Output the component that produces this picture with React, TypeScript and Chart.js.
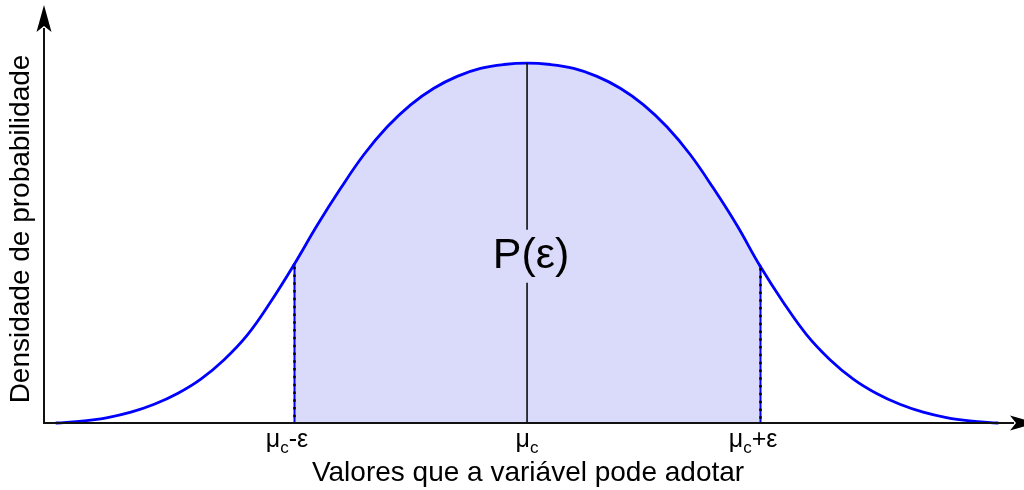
import React, { useEffect, useRef } from 'react';
import { Chart, registerables } from 'chart.js';

Chart.register(...registerables);

// Density curve, x in units of ε around μc, y relative to the peak density
const curveX = [
  -2.02, -1.9, -1.8, -1.7, -1.6, -1.5, -1.4, -1.3, -1.2, -1.1, -1.0,
  -0.9, -0.8, -0.7, -0.6, -0.5, -0.4, -0.3, -0.2, -0.1, 0,
  0.1, 0.2, 0.3, 0.4, 0.5, 0.6, 0.7, 0.8, 0.9,
  1.0, 1.1, 1.2, 1.3, 1.4, 1.5, 1.6, 1.7, 1.8, 1.9, 2.02,
];
const curveY = [
  0, 0.006, 0.015, 0.03, 0.052, 0.082, 0.122, 0.176, 0.245, 0.337, 0.44,
  0.55, 0.652, 0.746, 0.823, 0.884, 0.93, 0.963, 0.985, 0.996, 1.0,
  0.996, 0.985, 0.963, 0.93, 0.884, 0.823, 0.746, 0.652, 0.55,
  0.436, 0.335, 0.245, 0.176, 0.122, 0.082, 0.052, 0.03, 0.015, 0.006, 0,
];

// Shaded interval [μc-ε, μc+ε] and the mean
const bandLow = -1;
const bandHigh = 1;
const centerValue = 0;

// Tick labels: μ with subscript c, followed by the offset
const tickValues = [-1, 0, 1];
const tickMain = ['μ', 'μ', 'μ'];
const tickSub = ['c', 'c', 'c'];
const tickTail = ['-ε', '', '+ε'];

const xTitle = 'Valores que a variável pode adotar';
const yTitle = 'Densidade de probabilidade';
const areaLabel = 'P(ε)';

const FONT = '"Liberation Sans", Arial, Helvetica, sans-serif';
const CURVE_BLUE = 'rgb(0,0,255)';
const BAND_FILL = 'rgb(218,218,250)';

function valueAt(v: number): number {
  return curveY[curveX.indexOf(v)];
}

function arrowHead(ctx: CanvasRenderingContext2D, tx: number, ty: number, dx: number, dy: number) {
  const len = 27;
  const half = 7.5;
  const notch = 6;
  const px = -dy;
  const py = dx;
  const bx = tx - dx * len;
  const by = ty - dy * len;
  ctx.beginPath();
  ctx.moveTo(tx, ty);
  ctx.lineTo(bx + px * half, by + py * half);
  ctx.lineTo(tx - dx * (len - notch), ty - dy * (len - notch));
  ctx.lineTo(bx - px * half, by - py * half);
  ctx.closePath();
  ctx.fill();
}

const decorPlugin = {
  id: 'decor',
  afterDatasetsDraw(chart: any) {
    const { ctx, chartArea, scales } = chart;
    const xs = scales.x;
    const ys = scales.y;
    const base = ys.getPixelForValue(0);

    ctx.save();

    // Centre line at μc, broken around the P(ε) label
    const cx = xs.getPixelForValue(centerValue);
    const peak = ys.getPixelForValue(valueAt(centerValue));
    const labelMid = ys.getPixelForValue(0.465);
    ctx.strokeStyle = '#000';
    ctx.lineWidth = 1.5;
    ctx.beginPath();
    ctx.moveTo(cx, peak);
    ctx.lineTo(cx, labelMid - 26);
    ctx.moveTo(cx, labelMid + 27);
    ctx.lineTo(cx, base);
    ctx.stroke();

    ctx.fillStyle = '#000';
    ctx.font = `43px ${FONT}`;
    ctx.textAlign = 'center';
    ctx.textBaseline = 'middle';
    ctx.fillText(areaLabel, cx + 4, labelMid + 1);

    // Interval edges: blue rule with black dots on top
    [bandLow, bandHigh].forEach((v) => {
      const px = Math.round(xs.getPixelForValue(v)) + 0.5;
      const top = ys.getPixelForValue(valueAt(v));
      ctx.setLineDash([]);
      ctx.strokeStyle = CURVE_BLUE;
      ctx.lineWidth = 2;
      ctx.beginPath();
      ctx.moveTo(px, top);
      ctx.lineTo(px, base);
      ctx.stroke();
      ctx.setLineDash([2.5, 5.3]);
      ctx.strokeStyle = '#000';
      ctx.lineWidth = 2.5;
      ctx.beginPath();
      ctx.moveTo(px, top + 2);
      ctx.lineTo(px, base);
      ctx.stroke();
    });
    ctx.setLineDash([]);

    // Axes with arrow heads
    const left = chartArea.left;
    ctx.strokeStyle = '#111';
    ctx.fillStyle = '#000';
    ctx.lineWidth = 2;
    ctx.beginPath();
    ctx.moveTo(left, base + 1);
    ctx.lineTo(left, chartArea.top + 20);
    ctx.moveTo(left - 1, base);
    ctx.lineTo(chartArea.right - 8, base);
    ctx.stroke();
    arrowHead(ctx, left, chartArea.top - 3, 0, -1);
    arrowHead(ctx, chartArea.right + 15, base, 1, 0);

    // Tick labels
    ctx.textBaseline = 'alphabetic';
    ctx.textAlign = 'left';
    tickValues.forEach((v, i) => {
      const px = xs.getPixelForValue(v);
      const mainFont = `25px ${FONT}`;
      const subFont = `17px ${FONT}`;
      ctx.font = mainFont;
      const wMain = ctx.measureText(tickMain[i]).width;
      const wTail = ctx.measureText(tickTail[i]).width;
      ctx.font = subFont;
      const wSub = ctx.measureText(tickSub[i]).width;
      const shift = tickTail[i] ? -7 : 0;
      let x0 = px - (wMain + wSub + wTail) / 2 + shift;
      const baseline = base + 24;
      ctx.font = mainFont;
      ctx.fillText(tickMain[i], x0, baseline);
      x0 += wMain;
      ctx.font = subFont;
      ctx.fillText(tickSub[i], x0, baseline + 6);
      x0 += wSub;
      ctx.font = mainFont;
      ctx.fillText(tickTail[i], x0, baseline);
    });

    // Axis titles
    ctx.font = `28px ${FONT}`;
    ctx.textAlign = 'center';
    ctx.fillText(xTitle, xs.getPixelForValue(centerValue) + 1, base + 58);
    ctx.save();
    ctx.translate(29, 229);
    ctx.rotate(-Math.PI / 2);
    ctx.font = `28px ${FONT}`;
    ctx.fillText(yTitle, 0, 0);
    ctx.restore();

    ctx.restore();
  },
};

export default function App() {
  const canvasRef = useRef<HTMLCanvasElement | null>(null);

  useEffect(() => {
    const canvas = canvasRef.current;
    if (!canvas) return;
    const points = curveX.map((x, i) => ({ x, y: curveY[i] }));
    const inBand = (c: any) =>
      c.p0.parsed.x >= bandLow - 1e-9 && c.p1.parsed.x <= bandHigh + 1e-9;

    const chart = new Chart(canvas, {
      type: 'line',
      data: {
        datasets: [
          {
            data: points,
            borderColor: CURVE_BLUE,
            borderWidth: 2.8,
            borderCapStyle: 'round',
            borderJoinStyle: 'round',
            backgroundColor: 'rgba(0,0,0,0)',
            fill: 'origin',
            pointRadius: 0,
            tension: 0.4,
            clip: false,
            segment: {
              backgroundColor: (c: any) => (inBand(c) ? BAND_FILL : 'rgba(0,0,0,0)'),
            },
          } as any,
        ],
      },
      options: {
        responsive: false,
        animation: false,
        layout: { padding: { left: 44, right: 2, top: 8, bottom: 67 } },
        scales: {
          x: { type: 'linear', display: false, min: -2.073, max: 2.124 },
          y: { type: 'linear', display: false, min: 0, max: 1.153 },
        },
        plugins: {
          legend: { display: false },
          tooltip: { enabled: false },
        },
      },
      plugins: [decorPlugin],
    });
    return () => chart.destroy();
  }, []);

  return (
    <div style={{ position: 'absolute', left: 0, top: 0, width: 1024, height: 490, background: '#fff' }}>
      <canvas ref={canvasRef} width={1024} height={490} />
    </div>
  );
}
